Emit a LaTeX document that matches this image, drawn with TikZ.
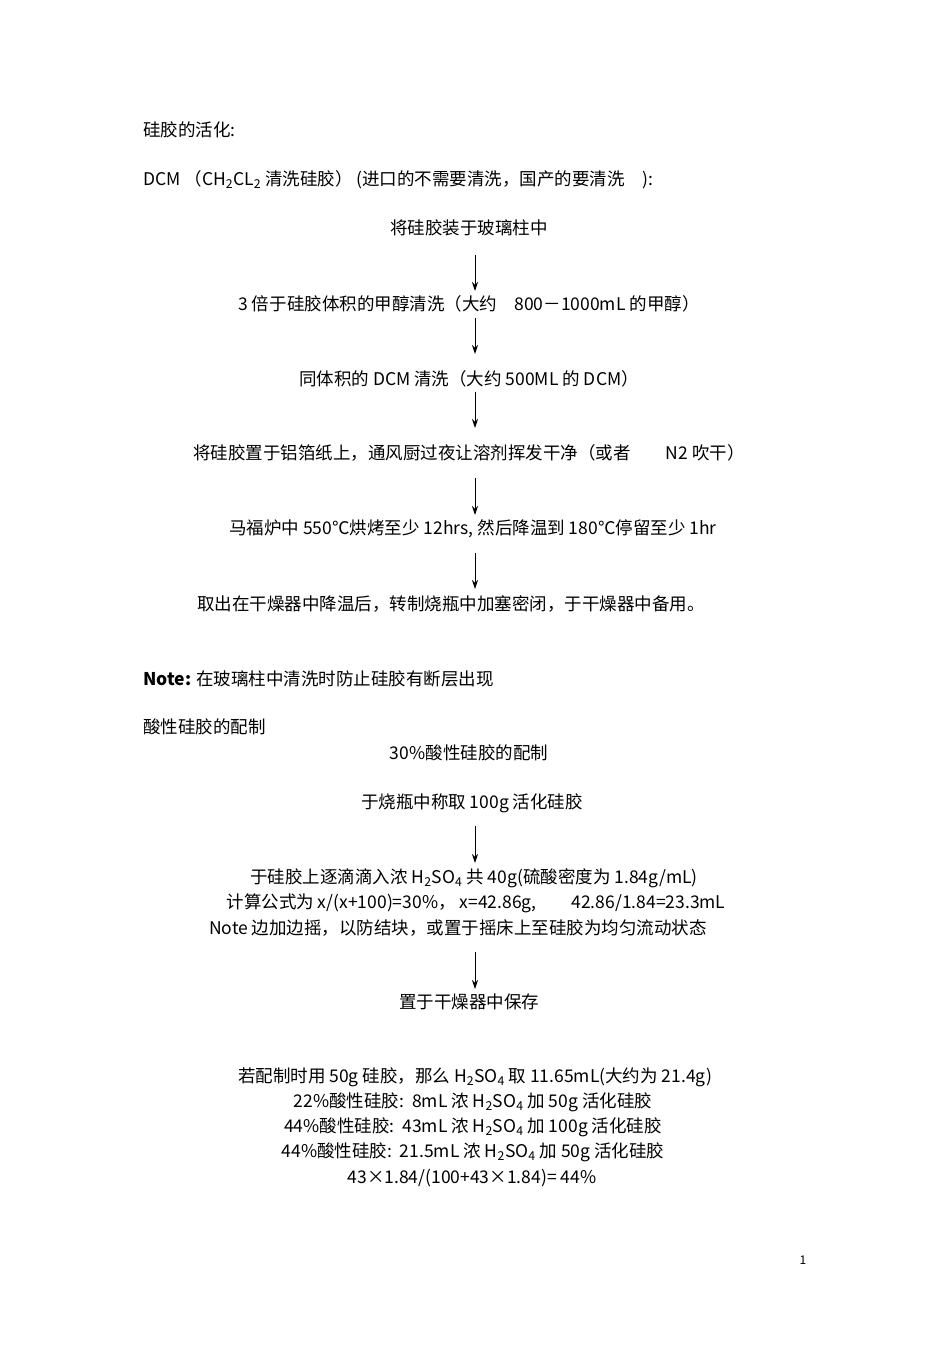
\documentclass[tikz,border=0pt]{standalone}
\usepackage{fontspec}
\setmainfont{Noto Sans CJK SC}
\usetikzlibrary{arrows.meta}
\begin{document}
\begin{tikzpicture}[x=1pt,y=-1pt,
  txt/.style={font=\fontsize{17.5}{20}\selectfont,inner sep=0pt},
  lt/.style={txt,anchor=west},
  arr/.style={-{Stealth[length=9pt,width=6pt]},line width=1pt}]
\useasboundingbox (0,0) rectangle (950,1345);
\node[lt] (h1) at (143,130) {硅胶的活化:};
\node[lt] (h2) at (143,180) {DCM （CH\textsubscript{2}CL\textsubscript{2} 清洗硅胶） (进口的不需要清洗，国产的要清洗\quad ):};
\node[txt] (a1) at (469,228) {将硅胶装于玻璃柱中};
\node[txt] (a2) at (469,304) {3 倍于硅胶体积的甲醇清洗（大约\quad 800－1000mL 的甲醇）};
\node[txt] (a3) at (469,379) {同体积的 DCM 清洗（大约 500ML 的 DCM）};
\node[txt] (a4) at (469,453) {将硅胶置于铝箔纸上，通风厨过夜让溶剂挥发干净（或者\qquad N2 吹干）};
\node[txt] (a5) at (473,529) {马福炉中 550℃烘烤至少 12hrs, 然后降温到 180℃停留至少 1hr};
\node[txt] (a6) at (451,604) {取出在干燥器中降温后，转制烧瓶中加塞密闭，于干燥器中备用。};
\coordinate (s1) at (475,255); \coordinate (e1) at (475,291);
\coordinate (s2) at (475,318); \coordinate (e2) at (475,354);
\coordinate (s3) at (475,392); \coordinate (e3) at (475,428);
\coordinate (s4) at (475,478); \coordinate (e4) at (475,515);
\coordinate (s5) at (475,553); \coordinate (e5) at (475,589);
\draw[arr] (s1) -- (e1);
\draw[arr] (s2) -- (e2);
\draw[arr] (s3) -- (e3);
\draw[arr] (s4) -- (e4);
\draw[arr] (s5) -- (e5);
\node[lt] (n1) at (143,679) {\textbf{Note:} 在玻璃柱中清洗时防止硅胶有断层出现};
\node[lt] (h3) at (143,727) {酸性硅胶的配制};
\node[txt] (b0) at (469,753) {30\%酸性硅胶的配制};
\node[txt] (b1) at (472,803) {于烧瓶中称取 100g 活化硅胶};
\node[txt] (b2) at (474,878) {于硅胶上逐滴滴入浓 H\textsubscript{2}SO\textsubscript{4} 共 40g(硫酸密度为 1.84g/mL)};
\node[txt] (b3) at (476,903) {计算公式为 x/(x+100)=30\%，\ x=42.86g,\qquad 42.86/1.84=23.3mL};
\node[txt] (b4) at (458,928) {Note 边加边摇，以防结块，或置于摇床上至硅胶为均匀流动状态};
\node[txt] (b5) at (469,1002) {置于干燥器中保存};
\coordinate (s6) at (475,826); \coordinate (e6) at (475,863);
\coordinate (s7) at (475,952); \coordinate (e7) at (475,989);
\draw[arr] (s6) -- (e6);
\draw[arr] (s7) -- (e7);
\node[txt] (c1) at (475,1077) {若配制时用 50g 硅胶，那么 H\textsubscript{2}SO\textsubscript{4} 取 11.65mL(大约为 21.4g)};
\node[txt] (c2) at (473,1102) {22\%酸性硅胶:\ \ 8mL 浓 H\textsubscript{2}SO\textsubscript{4} 加 50g 活化硅胶};
\node[txt] (c3) at (473,1127) {44\%酸性硅胶:\ \ 43mL 浓 H\textsubscript{2}SO\textsubscript{4} 加 100g 活化硅胶};
\node[txt] (c4) at (473,1152) {44\%酸性硅胶:\ \ 21.5mL 浓 H\textsubscript{2}SO\textsubscript{4} 加 50g 活化硅胶};
\node[txt] (c5) at (472,1178) {43×1.84/(100+43×1.84)= 44\%};
\node[txt,font=\fontsize{12}{14}\selectfont] (pg) at (803,1260) {1};
\end{tikzpicture}
\end{document}
